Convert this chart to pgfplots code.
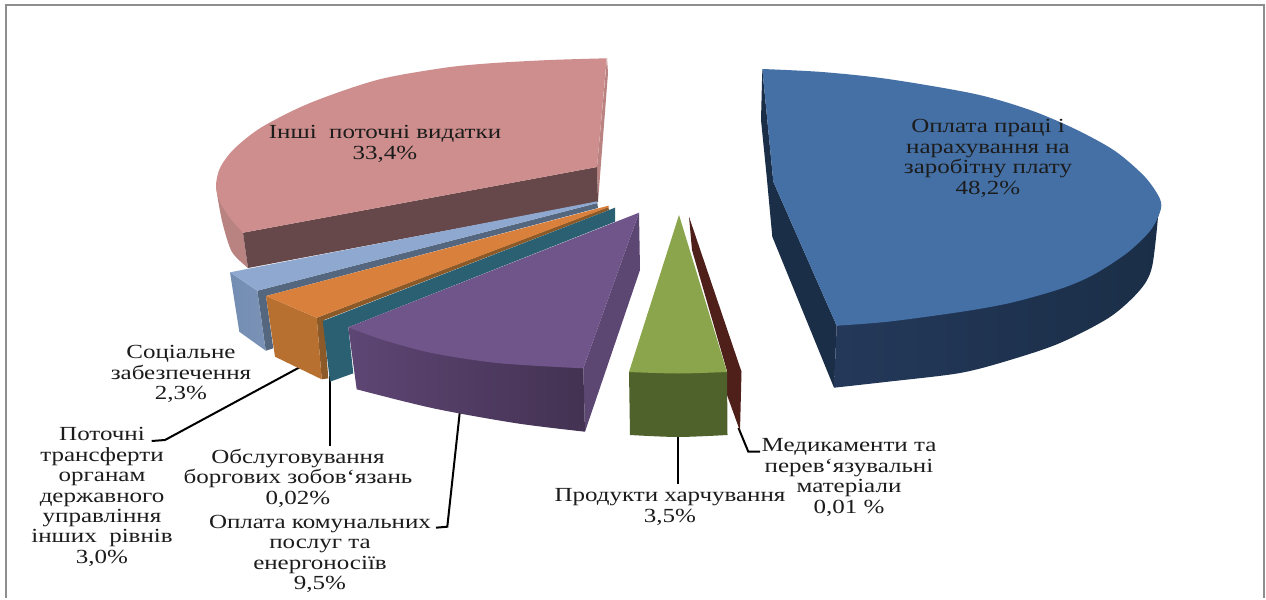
\documentclass[border=0pt]{standalone}
\usepackage{fontspec}
\setmainfont[FakeStretch=1.25,Ligatures=ResetAll]{Liberation Serif}
\usepackage{pgfplots}
\pgfplotsset{compat=1.18}
\definecolor{blueT}{HTML}{4470A6}
\definecolor{blueD}{HTML}{1A2E47}
\definecolor{blueS1}{HTML}{24395A}
\definecolor{pinkT}{HTML}{CE8E8D}
\definecolor{pinkS}{HTML}{B98382}
\definecolor{pinkD}{HTML}{66474A}
\definecolor{ltT}{HTML}{8FA8D0}
\definecolor{ltS}{HTML}{7A92B6}
\definecolor{ltD}{HTML}{55677F}
\definecolor{orT}{HTML}{D8803C}
\definecolor{orS}{HTML}{B87030}
\definecolor{orD}{HTML}{8C5A28}
\definecolor{teal2}{HTML}{2A6072}
\definecolor{puT}{HTML}{70558B}
\definecolor{puR}{HTML}{5C4672}
\definecolor{puA}{HTML}{5E4674}
\definecolor{puB}{HTML}{433252}
\definecolor{grT}{HTML}{8AA54C}
\definecolor{grS}{HTML}{50622B}
\definecolor{mar}{HTML}{4F1F1A}
\definecolor{frameg}{HTML}{8E8E8E}
\definecolor{txt}{HTML}{1C1C1C}
\newcommand\lab[3]{\node[align=center,text=txt,inner sep=0pt,font=\fontsize{20}{20.4}\selectfont] at (axis cs:#1,#2) {#3};}
\begin{document}
\begin{tikzpicture}
\begin{axis}[scale only axis,width=1266pt,height=598pt,xmin=0,xmax=1266,ymin=0,ymax=598,y dir=reverse,hide axis,clip=false]
% canvas
\addplot[fill=white,draw=none] coordinates {(0,0)(1266,0)(1266,598)(0,598)} --cycle;
% frame
\addplot[frameg,line width=2.2pt] coordinates {(6,598)(6,5)(1264,5)(1264,598)};
% leader lines (drawn first: they start under the slices)
\addplot[black,line width=2pt] coordinates {(302,366)(165,440)(151.7,441)};
\addplot[black,line width=2pt] coordinates {(330,376)(330,446)};
\addplot[black,line width=2pt] coordinates {(460,410)(447.3,526.7)(436,527.7)};
\addplot[black,line width=2pt] coordinates {(677.7,430)(677.7,484.3)};
\addplot[black,line width=2pt] coordinates {(738.5,428)(748.3,451.7)(760,451.7)};
% pink: other current spending
\addplot[fill=pinkS,draw=none,smooth] coordinates {(216,186)(218,200)(223,225)(232,252)(248,268)} -- (axis cs:243,232.7) -- cycle;
\addplot[fill=pinkS,draw=none] coordinates {(607,58)(608,73)(598,202)(597,167)} --cycle;
\addplot[fill=pinkD,draw=none] coordinates {(243,232.7)(597,167)(598,202)(248,268)} --cycle;
\addplot[fill=pinkT,draw=none,smooth] coordinates {(606.7,58.3)(550,60)(490,63.3)(443,68)(377,80)(310,103)(262,127)(234,149)(220,168)(216,186)(220,202)(230,218)(243,232.7)} -- (axis cs:597,167) -- cycle;
% light blue: social
\addplot[fill=ltD,draw=none] coordinates {(257.3,290.7)(597.3,203)(598,208)(266,296)(273.3,348.3)(265.7,350.7)} --cycle;
\addplot[left color=ltS!105!white,right color=ltS,draw=none] coordinates {(230,272.3)(257.3,290.7)(265.7,350.7)(239.3,331.7)} --cycle;
\addplot[fill=ltT,draw=none] coordinates {(230,272.3)(597.3,201.3)(597.3,203)(257.3,290.7)} --cycle;
% orange: transfers
\addplot[fill=orD,draw=none] coordinates {(316.7,317.7)(608.3,207)(609,210)(324,320)(328.3,378.3)(321.7,379.3)} --cycle;
\addplot[fill=orS,draw=none] coordinates {(266,296)(316.7,317.7)(321.7,379.3)(275,356.7)} --cycle;
\addplot[fill=orT,draw=none] coordinates {(266,296)(608.3,205.7)(609,207)(316.7,317.7)} --cycle;
% teal: debt
\addplot[fill=teal2,draw=none] coordinates {(322.7,321)(615,207.7)(615,221.7)(348.3,327.3)(353.3,373.3)(330,381.7)} --cycle;
% purple: utilities
\addplot[fill=puR,draw=none] coordinates {(639,212.7)(640,270)(585,431.7)(583.3,368.3)} --cycle;
\addplot[left color=puA,right color=puB,draw=none,smooth] coordinates {(356.7,389.3)(433.3,408.3)(516.7,423.3)(585,431.7)} -- (axis cs:583.3,368.3) -- (axis cs:348.3,327.3) -- cycle;
\addplot[fill=puT,draw=none,smooth] coordinates {(348.3,327.3)(383.3,340)(433.3,353.3)(500,363.3)(583.3,368.3)} -- (axis cs:639,212.7) -- cycle;
% maroon: medicines
\addplot[fill=mar,draw=none] coordinates {(689,216.7)(741.5,371.7)(740,431)(727,395)(727,371)(692,250)} --cycle;
% green: food
\addplot[fill=grS,draw=none,smooth] coordinates {(630,435)(678,437)(727.5,435)} -- (axis cs:727,372) -- (axis cs:629,372) -- cycle;
\addplot[fill=grT,draw=none,smooth] coordinates {(629,372)(678,373.5)(727,372)} -- (axis cs:679,215) -- cycle;
% blue: wages
\addplot[fill=blueD,draw=none] coordinates {(762.3,69)(773.3,181.7)(836.7,325.7)(834,387.7)(772.3,236.7)(766.7,176.7)(761,120)} --cycle;
\addplot[left color=blueS1,right color=blueD,draw=none,smooth] coordinates {(834,387.7)(888,381.7)(960,373)(1010,360)(1060,343)(1110,317)(1140,290)(1152,267)(1158,217)} -- (axis cs:1161,207) -- (axis cs:836.7,325.7) -- cycle;
\addplot[fill=blueT,draw=none,smooth] coordinates {(762.3,69)(822,72)(888,79)(975,94)(1030,110)(1075,129)(1115,151)(1145,177)(1160,199)(1160,212)(1150,231)(1127,253)(1093,275)(1060,289)(1010,303)(960,312)(888,321.7)(836.7,325.7)} -- (axis cs:773.3,181.7) -- cycle;
% labels
\lab{988}{158.5}{Оплата праці і\\нарахування на\\заробітну плату\\48,2\%}
\lab{385}{144}{Інші\ \ поточні видатки\\33,4\%}
\lab{181}{374}{Соціальне\\забезпечення\\2,3\%}
\lab{102}{497}{Поточні\\трансферти\\органам\\державного\\управління\\інших\ \ рівнів\\3,0\%}
\lab{298}{478}{Обслуговування\\боргових зобов`язань\\0,02\%}
\lab{320}{554}{Оплата комунальних\\послуг та\\енергоносіїв\\9,5\%}
\lab{670}{507}{Продукти харчування\\3,5\%}
\lab{849}{477.5}{Медикаменти та\\перев`язувальні\\матеріали\\0,01 \%}
\end{axis}
\end{tikzpicture}
\end{document}
